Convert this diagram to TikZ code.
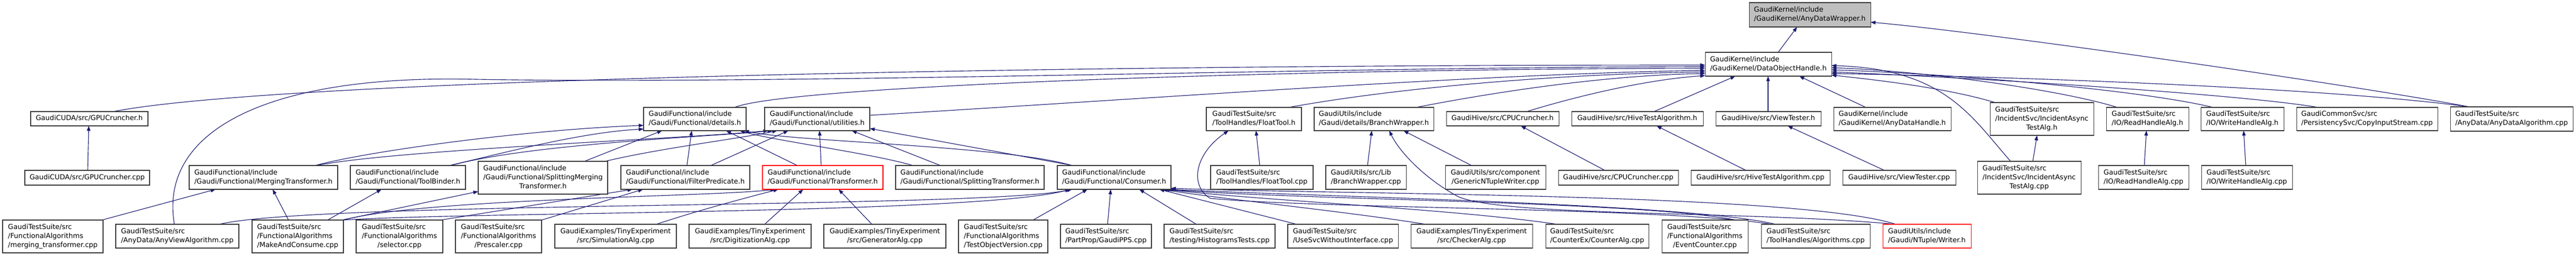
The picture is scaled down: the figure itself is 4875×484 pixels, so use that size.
\documentclass[tikz,border=0pt]{standalone}
\usepackage{fontspec}
\setmainfont{DejaVu Sans}
\usetikzlibrary{arrows.meta,calc}
\definecolor{edgeblue}{HTML}{191970}
\definecolor{boxline}{HTML}{383838}
\pgfdeclarelayer{background}
\pgfsetlayers{background,main}
\newcommand{\lab}[2]{\begin{tabular}{@{}l@{}}#1\multicolumn{1}{@{}c@{}}{#2}\end{tabular}}
\newcommand{\bx}[7][]{\node[box,#1,minimum width={(#5-#3)*0.75pt},minimum height={(#6-#4)*0.75pt}] (#2) at ({(#3+#5)/2},{(#4+#6)/2}) {#7};}
\tikzset{
  box/.style={draw=boxline, line width=0.8pt, fill=white, inner sep=0pt, outer sep=0pt,
    font=\fontsize{9.8pt}{12.75pt}\selectfont},
  redbox/.style={draw=red},
  curbox/.style={fill=black!25},
  dep/.style={draw=edgeblue, line width=0.85pt, -{Triangle[length=7pt,width=5pt]}}
}
\begin{document}
\begin{tikzpicture}[x=0.75pt,y=-0.75pt]
\useasboundingbox (0,0) rectangle (4875,484);
% row 0/1
\bx[curbox]{adw}{3310}{5}{3540}{51}{\lab{GaudiKernel/include\\}{/GaudiKernel/AnyDataWrapper.h}}
\bx{doh}{3227}{99}{3466}{144}{\lab{GaudiKernel/include\\}{/GaudiKernel/DataObjectHandle.h}}
% row 2
\bx{gpuh}{58}{211}{280}{238}{\lab{}{GaudiCUDA/src/GPUCruncher.h}}
\bx{det}{1218}{203}{1412}{247}{\lab{GaudiFunctional/include\\}{/Gaudi/Functional/details.h}}
\bx{util}{1447}{203}{1646}{247}{\lab{GaudiFunctional/include\\}{/Gaudi/Functional/utilities.h}}
\bx{fth}{2283}{203}{2463}{247}{\lab{GaudiTestSuite/src\\}{/ToolHandles/FloatTool.h}}
\bx{bwh}{2487}{203}{2713}{247}{\lab{GaudiUtils/include\\}{/Gaudi/details/BranchWrapper.h}}
\bx{cpuh}{2737}{211}{2950}{238}{\lab{}{GaudiHive/src/CPUCruncher.h}}
\bx{hiveh}{2974}{211}{3223}{238}{\lab{}{GaudiHive/src/HiveTestAlgorithm.h}}
\bx{vth}{3247}{211}{3446}{238}{\lab{}{GaudiHive/src/ViewTester.h}}
\bx{adh}{3470}{203}{3692}{247}{\lab{GaudiKernel/include\\}{/GaudiKernel/AnyDataHandle.h}}
\bx{iah}{3766}{194}{3962}{256}{\lab{GaudiTestSuite/src\\/IncidentSvc/IncidentAsync\\}{TestAlg.h}}
\bx{rhh}{3986}{203}{4142}{247}{\lab{GaudiTestSuite/src\\}{/IO/ReadHandleAlg.h}}
\bx{whh}{4165}{203}{4322}{247}{\lab{GaudiTestSuite/src\\}{/IO/WriteHandleAlg.h}}
\bx{cis}{4346}{203}{4613}{247}{\lab{GaudiCommonSvc/src\\}{/PersistencySvc/CopyInputStream.cpp}}
\bx{ada}{4637}{202}{4869}{248}{\lab{GaudiTestSuite/src\\}{/AnyData/AnyDataAlgorithm.cpp}}
% row 3
\bx{gpuc}{47}{322}{283}{350}{\lab{}{GaudiCUDA/src/GPUCruncher.cpp}}
\bx{mrg}{358}{313}{639}{358}{\lab{GaudiFunctional/include\\}{/Gaudi/Functional/MergingTransformer.h}}
\bx{tbd}{663}{313}{881}{358}{\lab{GaudiFunctional/include\\}{/Gaudi/Functional/ToolBinder.h}}
\bx{smt}{905}{305}{1150}{367}{\lab{GaudiFunctional/include\\/Gaudi/Functional/SplittingMerging\\}{Transformer.h}}
\bx{fpr}{1175}{313}{1419}{358}{\lab{GaudiFunctional/include\\}{/Gaudi/Functional/FilterPredicate.h}}
\bx[redbox]{trf}{1443}{313}{1671}{358}{\lab{GaudiFunctional/include\\}{/Gaudi/Functional/Transformer.h}}
\bx{spt}{1695}{313}{1976}{358}{\lab{GaudiFunctional/include\\}{/Gaudi/Functional/SplittingTransformer.h}}
\bx{cns}{2001}{313}{2216}{358}{\lab{GaudiFunctional/include\\}{/Gaudi/Functional/Consumer.h}}
\bx{ftc}{2291}{313}{2485}{358}{\lab{GaudiTestSuite/src\\}{/ToolHandles/FloatTool.cpp}}
\bx{bwc}{2509}{313}{2661}{358}{\lab{GaudiUtils/src/Lib\\}{/BranchWrapper.cpp}}
\bx{gnw}{2735}{313}{2925}{358}{\lab{GaudiUtils/src/component\\}{/GenericNTupleWriter.cpp}}
\bx{cpuc}{2949}{322}{3176}{350}{\lab{}{GaudiHive/src/CPUCruncher.cpp}}
\bx{hivec}{3200}{322}{3463}{350}{\lab{}{GaudiHive/src/HiveTestAlgorithm.cpp}}
\bx{vtc}{3487}{322}{3701}{350}{\lab{}{GaudiHive/src/ViewTester.cpp}}
\bx{iac}{3742}{305}{3938}{367}{\lab{GaudiTestSuite/src\\/IncidentSvc/IncidentAsync\\}{TestAlg.cpp}}
\bx{rhc}{3971}{313}{4142}{358}{\lab{GaudiTestSuite/src\\}{/IO/ReadHandleAlg.cpp}}
\bx{whc}{4166}{313}{4338}{358}{\lab{GaudiTestSuite/src\\}{/IO/WriteHandleAlg.cpp}}
% row 4
\bx{mtc}{5}{416}{195}{478}{\lab{GaudiTestSuite/src\\/FunctionalAlgorithms\\}{/merging\_transformer.cpp}}
\bx{avc}{219}{424}{452}{469}{\lab{GaudiTestSuite/src\\}{/AnyData/AnyViewAlgorithm.cpp}}
\bx{mac}{477}{416}{650}{478}{\lab{GaudiTestSuite/src\\/FunctionalAlgorithms\\}{/MakeAndConsume.cpp}}
\bx{sel}{674}{416}{838}{478}{\lab{GaudiTestSuite/src\\/FunctionalAlgorithms\\}{/selector.cpp}}
\bx{pre}{862}{416}{1025}{478}{\lab{GaudiTestSuite/src\\/FunctionalAlgorithms\\}{/Prescaler.cpp}}
\bx{sim}{1050}{424}{1280}{469}{\lab{GaudiExamples/TinyExperiment\\}{/src/SimulationAlg.cpp}}
\bx{dig}{1304}{424}{1535}{469}{\lab{GaudiExamples/TinyExperiment\\}{/src/DigitizationAlg.cpp}}
\bx{gen}{1559}{424}{1790}{469}{\lab{GaudiExamples/TinyExperiment\\}{/src/GeneratorAlg.cpp}}
\bx{tov}{1814}{416}{1983}{478}{\lab{GaudiTestSuite/src\\/FunctionalAlgorithms\\}{/TestObjectVersion.cpp}}
\bx{pps}{2007}{424}{2179}{469}{\lab{GaudiTestSuite/src\\}{/PartProp/GaudiPPS.cpp}}
\bx{hst}{2203}{424}{2413}{469}{\lab{GaudiTestSuite/src\\}{/testing/HistogramsTests.cpp}}
\bx{usw}{2437}{424}{2646}{469}{\lab{GaudiTestSuite/src\\}{/UseSvcWithoutInterface.cpp}}
\bx{chk}{2670}{424}{2900}{469}{\lab{GaudiExamples/TinyExperiment\\}{/src/CheckerAlg.cpp}}
\bx{cnt}{2925}{424}{3120}{469}{\lab{GaudiTestSuite/src\\}{/CounterEx/CounterAlg.cpp}}
\bx{evc}{3145}{416}{3308}{478}{\lab{GaudiTestSuite/src\\/FunctionalAlgorithms\\}{/EventCounter.cpp}}
\bx{tha}{3333}{424}{3539}{469}{\lab{GaudiTestSuite/src\\}{/ToolHandles/Algorithms.cpp}}
\bx[redbox]{wrt}{3563}{424}{3730}{469}{\lab{GaudiUtils/include\\}{/Gaudi/NTuple/Writer.h}}

\begin{pgfonlayer}{background}
% into AnyDataWrapper
\draw[dep] ($(doh.north west)+(138,0)$) -- ($(adw.north west)+(91,46)$);
\draw[dep] ($(ada.north west)+(36,0)$) .. controls (4450,160) and (3750,60) .. ($(adw.north west)+(230,37)$);
% into DataObjectHandle, right side
\draw[dep] ($(ada.north west)+(36,0)$) .. controls (4400,165) and (3800,145) .. ($(doh.north west)+(239,40)$);
\draw[dep] ($(cis.north west)+(41,0)$) .. controls (4250,180) and (3800,150) .. ($(doh.north west)+(239,37)$);
\draw[dep] ($(whh.north west)+(23,0)$) .. controls (4050,170) and (3700,140) .. ($(doh.north west)+(239,33)$);
\draw[dep] ($(rhh.north west)+(21,0)$) .. controls (3900,170) and (3650,135) .. ($(doh.north west)+(239,29)$);
\draw[dep] ($(iah.north west)+(10,0)$) .. controls (3680,165) and (3540,150) .. ($(doh.north west)+(239,43)$);
\draw[dep] ($(iac.north west)+(63,0)$) .. controls (3730,220) and (3680,130) .. ($(doh.north west)+(239,25)$);
% into DataObjectHandle, bottom
\draw[dep] ($(adh.north west)+(61,0)$) -- ($(doh.north west)+(178,45)$);
\draw[dep] ($(vth.north west)+(99,0)$) -- ($(doh.north west)+(119,45)$);
\draw[dep] ($(hiveh.north west)+(156,0)$) -- ($(doh.north west)+(57,45)$);
% into DataObjectHandle, left side
\draw[dep] ($(cpuh.north west)+(152,0)$) .. controls (2990,180) and (3120,150) .. ($(doh.north west)+(0,44)$);
\draw[dep] ($(bwh.north west)+(193,0)$) .. controls (2850,170) and (3050,142) .. ($(doh.north west)+(0,40)$);
\draw[dep] ($(fth.north west)+(156,0)$) .. controls (2650,165) and (2950,140) .. ($(doh.north west)+(0,37)$);
\draw[dep] ($(util.north west)+(199,15)$) .. controls (2200,185) and (2800,140) .. ($(doh.north west)+(0,34)$);
\draw[dep] ($(det.north west)+(172,0)$) .. controls (1500,160) and (2500,130) .. ($(doh.north west)+(0,30)$);
\draw[dep] ($(gpuh.north west)+(156,0)$) .. controls (500,155) and (1800,123) .. ($(doh.north west)+(0,24)$);
\draw[dep] ($(avc.north west)+(111,0)$) .. controls (300,250) and (500,140) .. (900,150) .. controls (1500,160) and (2500,127) .. ($(doh.north west)+(0,27)$);
% row 3 -> row 2 (simple)
\draw[dep] ($(gpuc.north west)+(119,0)$) -- ($(gpuh.north west)+(110,27)$);
\draw[dep] ($(ftc.north west)+(93,0)$) -- ($(fth.north west)+(94,44)$);
\draw[dep] ($(bwc.north west)+(79,0)$) -- ($(bwh.north west)+(109,44)$);
\draw[dep] ($(gnw.north west)+(50,0)$) -- ($(bwh.north west)+(169,44)$);
\draw[dep] ($(cpuc.north west)+(88,0)$) -- ($(cpuh.north west)+(141,27)$);
\draw[dep] ($(hivec.north west)+(104,0)$) -- ($(hiveh.north west)+(161,27)$);
\draw[dep] ($(vtc.north west)+(79,0)$) -- ($(vth.north west)+(136,27)$);
\draw[dep] ($(iac.north west)+(105,0)$) -- ($(iah.north west)+(89,62)$);
\draw[dep] ($(rhc.north west)+(87,0)$) -- ($(rhh.north west)+(76,44)$);
\draw[dep] ($(whc.north west)+(84,0)$) -- ($(whh.north west)+(81,44)$);
% Functional headers -> details.h / utilities.h
\draw[dep] ($(mrg.north west)+(238,0)$) .. controls (700,285) and (1000,245) .. ($(det.north west)+(0,34)$);
\draw[dep] ($(mrg.north west)+(240,0)$) .. controls (750,283) and (1300,262) .. ($(util.north west)+(7,44)$);
\draw[dep] ($(tbd.north west)+(187,0)$) .. controls (950,290) and (1100,250) .. ($(det.north west)+(0,41)$);
\draw[dep] ($(tbd.north west)+(190,0)$) .. controls (1000,272) and (1350,258) .. ($(util.north west)+(15,44)$);
\draw[dep] ($(smt.north west)+(201,0)$) -- ($(det.north west)+(35,44)$);
\draw[dep] ($(smt.north west)+(240,0)$) .. controls (1250,280) and (1400,262) .. ($(util.north west)+(24,44)$);
\draw[dep] ($(fpr.north west)+(125,0)$) -- ($(det.north west)+(91,44)$);
\draw[dep] ($(fpr.north west)+(170,0)$) -- ($(util.north west)+(45,44)$);
\draw[dep] ($(trf.north west)+(66,0)$) -- ($(det.north west)+(156,44)$);
\draw[dep] ($(trf.north west)+(111,0)$) -- ($(util.north west)+(104,44)$);
\draw[dep] ($(spt.north west)+(33,0)$) .. controls (1650,290) and (1460,265) .. ($(det.north west)+(182,44)$);
\draw[dep] ($(spt.north west)+(85,0)$) -- ($(util.north west)+(165,44)$);
\draw[dep] ($(cns.north west)+(28,0)$) .. controls (1900,275) and (1500,268) .. ($(det.north west)+(190,44)$);
\draw[dep] ($(cns.north west)+(30,0)$) -- ($(util.north west)+(199,40)$);
% bottom row -> row 3
\draw[dep] ($(mtc.north west)+(188,0)$) -- ($(mrg.north west)+(50,45)$);
\draw[dep] ($(mac.north west)+(69,0)$) -- ($(mrg.north west)+(158,45)$);
\draw[dep] ($(mac.north west)+(143,0)$) -- ($(tbd.north west)+(59,45)$);
\draw[dep] ($(mac.north west)+(170,0)$) -- ($(smt.north west)+(0,57)$);
\draw[dep] ($(mac.north west)+(173,0)$) .. controls (800,375) and (1350,372) .. ($(trf.north west)+(24,45)$);
\draw[dep] ($(mac.north west)+(173,0)$) .. controls (900,400) and (1850,405) .. ($(cns.north west)+(24,45)$);
\draw[dep] ($(avc.north west)+(196,0)$) .. controls (600,380) and (1850,395) .. ($(cns.north west)+(28,45)$);
\draw[dep] ($(sel.north west)+(160,0)$) -- ($(fpr.north west)+(22,45)$);
\draw[dep] ($(pre.north west)+(163,0)$) -- ($(fpr.north west)+(42,45)$);
\draw[dep] ($(sim.north west)+(192,0)$) .. controls (1330,395) and (1420,372) .. ($(trf.north west)+(30,45)$);
\draw[dep] ($(dig.north west)+(143,0)$) -- ($(trf.north west)+(77,45)$);
\draw[dep] ($(gen.north west)+(91,0)$) -- ($(trf.north west)+(144,45)$);
\draw[dep] ($(tov.north west)+(141,0)$) -- ($(cns.north west)+(57,45)$);
\draw[dep] ($(pps.north west)+(89,0)$) -- ($(cns.north west)+(101,45)$);
\draw[dep] ($(hst.north west)+(61,0)$) -- ($(cns.north west)+(155,45)$);
\draw[dep] ($(usw.north west)+(17,0)$) -- ($(cns.north west)+(193,45)$);
\draw[dep] ($(chk.north west)+(28,0)$) .. controls (2550,400) and (2300,375) .. ($(cns.north west)+(199,45)$);
\draw[dep] ($(cnt.north west)+(22,0)$) .. controls (2750,395) and (2400,380) .. ($(cns.north west)+(203,45)$);
\draw[dep] ($(evc.north west)+(140,0)$) .. controls (3100,380) and (2450,378) .. ($(cns.north west)+(207,45)$);
\draw[dep] ($(tha.north west)+(27,0)$) .. controls (3200,385) and (2500,372) .. ($(cns.north west)+(211,45)$);
\draw[dep] ($(tha.north west)+(20,0)$) .. controls (3150,392) and (2500,395) .. (2290,375) .. controls (2250,350) and (2262,290) .. ($(fth.north west)+(42,44)$);
\draw[dep] ($(wrt.north west)+(25,0)$) .. controls (3400,365) and (2550,368) .. ($(cns.north west)+(215,43)$);
\draw[dep] ($(wrt.north west)+(25,0)$) .. controls (3300,398) and (2850,410) .. (2760,372) .. controls (2700,340) and (2650,290) .. ($(bwh.north west)+(142,44)$);
\end{pgfonlayer}
\end{tikzpicture}
\end{document}
